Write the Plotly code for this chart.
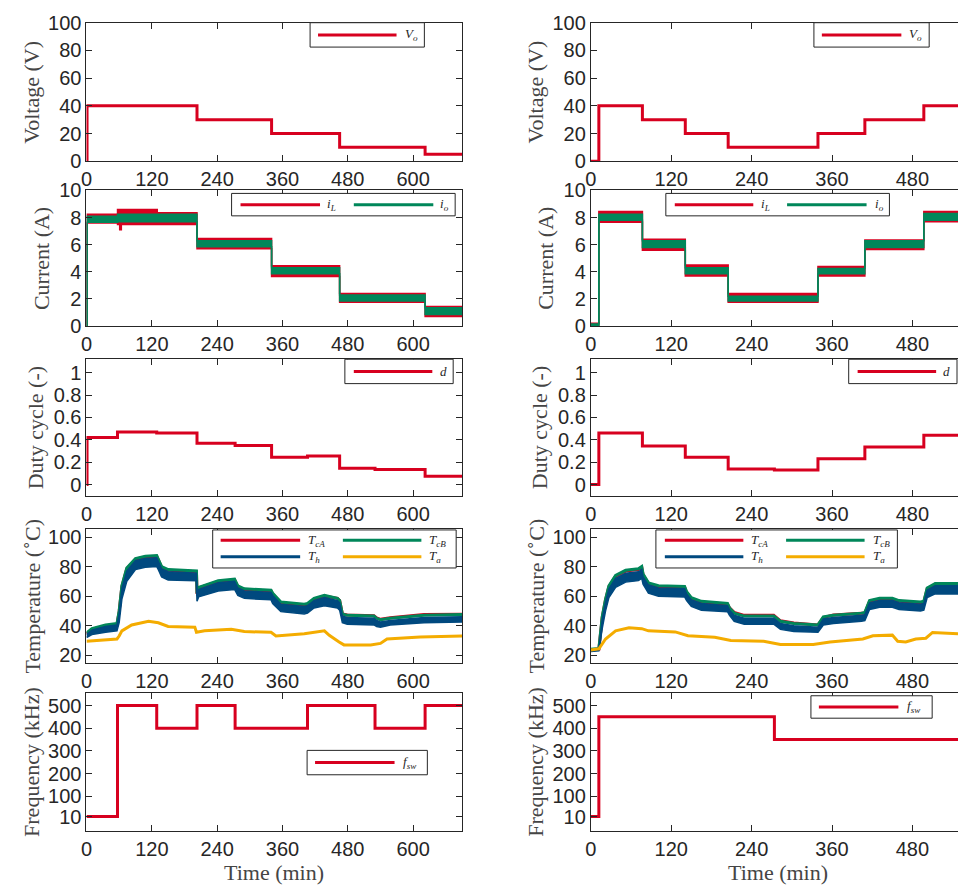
import plotly.graph_objects as go

W, H = 958, 896
RED, GREEN, BLUE, ORANGE = "#D7001F", "#00875A", "#00497F", "#F4AC00"
INK = "#262626"
TITLE_INK = "#454545"
SANS = "Liberation Sans"
SERIF = "Liberation Serif"

# ---------------- run A (left column) ----------------
a_time_v = [0, 1, 203, 340, 465, 622, 690]
a_vo = [0, 40, 30, 20, 10, 5, 5]

a_time_i = [0, 1, 57, 61, 64, 130, 203, 340, 465, 622, 690]
a_iL_hi = [0.1, 8.25, 8.6, 8.6, 8.6, 8.35, 6.45, 4.45, 2.4, 1.45, 1.45]
a_iL_lo = [-0.05, 7.6, 7.5, 7.1, 7.5, 7.5, 5.7, 3.65, 1.75, 0.7, 0.7]
a_io_hi = [0.05, 8.1, 8.25, 8.25, 8.25, 8.25, 6.3, 4.3, 2.3, 1.35, 1.35]
a_io_lo = [0.0, 7.65, 7.7, 7.7, 7.7, 7.7, 5.85, 3.85, 1.85, 0.85, 0.85]

a_time_d = [0, 1, 57, 129, 203, 273, 340, 406, 465, 530, 622, 690]
a_d = [0, 0.42, 0.47, 0.46, 0.37, 0.35, 0.245, 0.255, 0.145, 0.135, 0.075, 0.075]

a_time_T = [0, 10, 35, 56, 60, 65, 74, 90, 108, 129, 132, 138, 150, 202, 203, 206,
            242, 272, 278, 290, 339, 342, 357, 400, 406, 418, 437, 461, 465, 470,
            479, 528, 533, 540, 558, 595, 620, 690]
a_TcA = [34.5, 37.5, 40, 41, 49.5, 66.5, 78.5, 85, 86.5, 87, 84.5, 79.5, 77.5, 76.5,
         61.5, 65.5, 70, 71, 66.5, 64.5, 63.5, 61.5, 55.5, 54, 54.5, 58, 60, 58.5,
         57, 48, 47.3, 46.8, 45.3, 44.3, 45.3, 46.4, 47.5, 47.8]
a_TcB = [35, 38, 40.5, 41.5, 50, 67, 79, 85.5, 87, 87.5, 85, 80, 78, 77, 62, 66,
         70.5, 71.5, 67, 65, 64, 62, 56, 54.5, 55, 58.5, 60.5, 58.5, 57, 48, 47,
         46.5, 45, 44, 45, 46, 47, 47.5]
a_Th_hi = [34, 37, 39.5, 40.5, 48, 65, 77, 84, 85.5, 86, 83.5, 78.5, 76.5, 75.5, 60,
           64.5, 69, 70, 65.5, 63.5, 62.5, 60.5, 54.5, 53, 53.5, 57, 59, 57, 55.5,
           46.5, 45.5, 45, 43.5, 42.5, 43.5, 44.5, 45.5, 46]
a_Th_lo = [32, 34, 35.5, 36.5, 42, 58, 70, 78, 79.5, 80, 78, 73, 71, 70.5, 56.5, 59.5,
           63.5, 64.5, 60.5, 58.5, 57.5, 55, 49.5, 48, 48.5, 52, 53.5, 52, 50.5, 42,
           41, 40.5, 39.5, 39, 40.5, 41.5, 42, 42.5]
a_time_Ta = [0, 56, 60, 65, 83, 114, 132, 150, 199, 202, 217, 266, 290, 339, 348, 400,
             437, 446, 464, 473, 522, 540, 552, 613, 690]
a_Ta = [29.5, 31, 33, 36.5, 40.5, 43, 42, 39.5, 39, 35.5, 36.5, 37.5, 36, 35.5, 33,
        34.5, 36.5, 33.5, 29, 27, 27, 28, 31, 32.3, 33]

a_time_f = [0, 57, 129, 203, 273, 406, 530, 622, 690]
a_fsw = [10, 500, 400, 500, 400, 500, 400, 500, 500]

# ---------------- run B (right column) ----------------
b_time_v = [0, 12, 77, 141, 205, 339, 409, 497, 548]
b_vo = [0, 40, 30, 20, 10, 20, 30, 40, 40]
b_iL_hi = [0.2, 8.45, 6.4, 4.5, 2.4, 4.4, 6.35, 8.45, 8.45]
b_iL_lo = [-0.1, 7.65, 5.6, 3.7, 1.75, 3.7, 5.65, 7.7, 7.7]
b_io_hi = [0.15, 8.25, 6.3, 4.3, 2.2, 4.25, 6.3, 8.3, 8.3]
b_io_lo = [-0.05, 7.8, 5.8, 3.85, 1.85, 3.85, 5.8, 7.8, 7.8]

b_time_d = [0, 12, 77, 141, 205, 274, 339, 409, 497, 548]
b_d = [0, 0.46, 0.345, 0.245, 0.14, 0.13, 0.23, 0.335, 0.44, 0.44]

b_time_T = [0, 12, 17, 22, 27, 37, 52, 71, 76, 78, 86, 101, 140, 143, 150, 165, 204,
            207, 214, 229, 273, 283, 303, 335, 339, 347, 362, 404, 409, 416, 431, 450,
            460, 492, 497, 502, 514, 548]
b_TcA = [23.5, 24, 45.5, 57.5, 66.5, 73.5, 77, 78, 79.5, 74.5, 68.5, 66.5, 66, 62.5,
         58.5, 56, 54.5, 52, 49, 47, 47, 43.3, 41.8, 40.5, 40.5, 45.5, 47.3, 48.5,
         48.5, 56.5, 58, 58, 56.5, 55.5, 56, 65, 68, 68]
b_TcB = [24, 24.5, 46, 58, 67, 74, 77.5, 78.5, 80, 75, 69, 67, 66.5, 63, 59, 56.5, 55,
         52, 48.5, 46.5, 46.5, 43, 41.5, 40.5, 40.5, 46, 47, 48.5, 49, 57, 58.5, 58.5,
         57, 56, 56.5, 65.5, 68.5, 68.5]
b_Th_hi = [23.5, 24, 44, 56, 65, 72, 75.5, 76.5, 78, 73, 67.5, 65.5, 65, 61.5, 57.5,
           55, 53.5, 50.5, 47, 45, 45, 41.5, 40, 39, 39, 44.5, 45.5, 47, 47.5, 55.5,
           57, 57, 55.5, 54.5, 55, 64, 67, 67]
b_Th_lo = [22.5, 23, 38, 50, 59, 66, 69.5, 70.5, 72, 68, 62, 60, 59.5, 57, 53, 50.5,
           49.5, 47, 43, 41, 41, 37.5, 36, 35.5, 35.5, 40.5, 41.5, 43, 43.5, 51, 52.5,
           52.5, 51, 50, 50.5, 59, 61.5, 61.5]
b_time_Ta = [0, 12, 22, 37, 57, 76, 86, 126, 145, 185, 209, 258, 283, 332, 357, 382,
             406, 421, 450, 458, 470, 485, 500, 510, 548]
b_Ta = [23.6, 24.3, 31, 36.5, 38.6, 38, 36.5, 35.8, 33.2, 32.2, 30, 29.4, 27.3, 27.3,
        29, 30, 31, 33.2, 33.6, 29.4, 29, 31, 31.5, 35.4, 34.5]

b_time_f = [0, 12, 274, 548]
b_fsw = [10, 450, 350, 350]

# ---------------- axes layout ----------------
rows = [
    dict(rng=[0, 100], vals=[0, 20, 40, 60, 80, 100], title="Voltage (V)", top=12, bot=154),
    dict(rng=[0, 10], vals=[0, 2, 4, 6, 8, 10], title="Current (A)", top=184, bot=323),
    dict(rng=[-0.1, 1.12], vals=[0, 0.2, 0.4, 0.6, 0.8, 1],
         text=["0", "0.2", "0.4", "0.6", "0.8", "1"], title="Duty cycle (-)", top=357, bot=497),
    dict(rng=[15, 105.5], vals=[20, 40, 60, 80, 100], title="Temperature (<sup>∘</sup>C)",
         top=531, bot=668),
    dict(rng=[-55, 556], vals=[10, 100, 200, 300, 400, 500], title="Frequency (kHz)",
         top=699, bot=841),
]
cols = [
    dict(x0=81, x1=459, xr=[0, 690], xt=[0, 120, 240, 360, 480, 600], ymirror="ticks",
         title_x=[26, 36, 30, 25, 25], time_x=270),
    dict(x0=588.5, x1=958, xr=[0, 548], xt=[0, 120, 240, 360, 480], ymirror=False,
         title_x=[533, 543, 537, 532, 532], time_x=777),
]

fig = go.Figure()
axes = {}
annotations = []
shapes = []


def px_x(p):
    return p / W


def px_y(p):
    return 1 - p / H


def axis_id(r, c):
    return r * 2 + c + 1


for c, col in enumerate(cols):
    for r, row in enumerate(rows):
        n = axis_id(r, c)
        common = dict(showline=True, linecolor=INK, linewidth=1, ticks="inside", ticklen=6,
                      tickwidth=1, tickcolor=INK, showgrid=False, zeroline=False,
                      tickfont=dict(family=SANS, size=20, color=INK))
        axes[f"xaxis{n}"] = dict(common, domain=[px_x(col["x0"]), px_x(col["x1"])],
                                 range=col["xr"], tickvals=col["xt"], mirror="ticks",
                                 anchor=f"y{n}")
        ya = dict(common, domain=[px_y(row["bot"]), px_y(row["top"])], range=row["rng"],
                  tickvals=row["vals"], mirror=col["ymirror"], anchor=f"x{n}")
        if "text" in row:
            ya["ticktext"] = row["text"]
        axes[f"yaxis{n}"] = ya
        annotations.append(dict(text=row["title"], x=px_x(col["title_x"][r]),
                                y=px_y((row["top"] + row["bot"]) / 2), xref="paper",
                                yref="paper", textangle=-90, showarrow=False,
                                xanchor="center", yanchor="middle",
                                font=dict(family=SERIF, size=22, color=TITLE_INK)))
    annotations.append(dict(text="Time (min)", x=px_x(col["time_x"]), y=px_y(883),
                            xref="paper", yref="paper", showarrow=False, xanchor="center",
                            yanchor="middle", font=dict(family=SERIF, size=22, color=TITLE_INK)))


def step(n, x, y, color, width=3):
    fig.add_trace(go.Scatter(x=x, y=y, mode="lines", line=dict(color=color, width=width,
                  shape="hv"), xaxis=f"x{n}", yaxis=f"y{n}", showlegend=False))


def band(n, x, hi, lo, color, shape="hv"):
    fig.add_trace(go.Scatter(x=x, y=hi, mode="lines", line=dict(color=color, width=1.5,
                  shape=shape), xaxis=f"x{n}", yaxis=f"y{n}", showlegend=False))
    fig.add_trace(go.Scatter(x=x, y=lo, mode="lines", line=dict(color=color, width=1.5,
                  shape=shape), fill="tonexty", fillcolor=color, xaxis=f"x{n}",
                  yaxis=f"y{n}", showlegend=False))


def curve(n, x, y, color, width=3):
    fig.add_trace(go.Scatter(x=x, y=y, mode="lines", line=dict(color=color, width=width),
                  xaxis=f"x{n}", yaxis=f"y{n}", showlegend=False))


runs = [
    dict(tv=a_time_v, vo=a_vo, ti=a_time_i, iLh=a_iL_hi, iLl=a_iL_lo, ioh=a_io_hi,
         iol=a_io_lo, td=a_time_d, d=a_d, tT=a_time_T, TcA=a_TcA, TcB=a_TcB, Thh=a_Th_hi,
         Thl=a_Th_lo, tTa=a_time_Ta, Ta=a_Ta, tf=a_time_f, f=a_fsw),
    dict(tv=b_time_v, vo=b_vo, ti=b_time_v, iLh=b_iL_hi, iLl=b_iL_lo, ioh=b_io_hi,
         iol=b_io_lo, td=b_time_d, d=b_d, tT=b_time_T, TcA=b_TcA, TcB=b_TcB, Thh=b_Th_hi,
         Thl=b_Th_lo, tTa=b_time_Ta, Ta=b_Ta, tf=b_time_f, f=b_fsw),
]

for c, run in enumerate(runs):
    step(axis_id(0, c), run["tv"], run["vo"], RED)
    band(axis_id(1, c), run["ti"], run["iLh"], run["iLl"], RED)
    band(axis_id(1, c), run["ti"], run["ioh"], run["iol"], GREEN)
    step(axis_id(2, c), run["td"], run["d"], RED)
    n = axis_id(3, c)
    curve(n, run["tT"], run["TcA"], RED)
    curve(n, run["tT"], run["TcB"], GREEN)
    band(n, run["tT"], run["Thh"], run["Thl"], BLUE, shape="linear")
    curve(n, run["tTa"], run["Ta"], ORANGE, width=3)
    step(axis_id(4, c), run["tf"], run["f"], RED)


# ---------------- legends (box, line samples, labels) ----------------
def legend(box, entries):
    x0, y0, x1, y1 = box
    shapes.append(dict(type="rect", xref="paper", yref="paper", x0=px_x(x0), x1=px_x(x1),
                       y0=px_y(y1), y1=px_y(y0), line=dict(color=INK, width=1),
                       fillcolor="white", layer="above"))
    for lx0, lx1, ly, color, label, tx in entries:
        shapes.append(dict(type="line", xref="paper", yref="paper", x0=px_x(lx0),
                           x1=px_x(lx1), y0=px_y(ly), y1=px_y(ly),
                           line=dict(color=color, width=3), layer="above"))
        annotations.append(dict(text=label, x=px_x(tx), y=px_y(ly), xref="paper",
                                yref="paper", showarrow=False, xanchor="left",
                                yanchor="middle", font=dict(family=SERIF, size=13,
                                                            color=INK)))


VO = "<i>V<sub>o</sub></i>"
IL = "<i>i<sub>L</sub></i>"
IO = "<i>i<sub>o</sub></i>"
DD = "<i>d</i>"
TCA = "<i>T<sub>cA</sub></i>"
TCB = "<i>T<sub>cB</sub></i>"
TH = "<i>T<sub>h</sub></i>"
TA = "<i>T<sub>a</sub></i>"
FSW = "<i>f<sub>sw</sub></i>"

legend((306, 12, 421, 37), [(314, 393, 24.5, RED, VO, 399)])
legend((813, 12, 929, 37), [(821, 901, 24.5, RED, VO, 907)])
legend((227, 187, 452, 210), [(236, 316, 198.5, RED, IL, 321), (350, 430, 198.5, GREEN, IO, 435)])
legend((664, 187, 889, 210), [(673, 752, 198.5, RED, IL, 758), (786, 866, 198.5, GREEN, IO, 872)])
legend((341, 357, 450, 382), [(350, 429, 369.5, RED, DD, 435)])
legend((848, 357, 957, 382), [(857, 936, 369.5, RED, DD, 941)])
legend((208, 532, 453, 571), [(216, 296, 542.5, RED, TCA, 302), (339, 418, 542.5, GREEN, TCB, 424),
                              (216, 296, 559.5, BLUE, TH, 302), (339, 418, 559.5, ORANGE, TA, 424)])
legend((654, 532, 897, 571), [(663, 742, 542.5, RED, TCA, 748), (785, 864, 542.5, GREEN, TCB, 870),
                              (663, 742, 559.5, BLUE, TH, 748), (785, 864, 559.5, ORANGE, TA, 870)])
legend((303, 758, 424, 783), [(311, 391, 770.5, RED, FSW, 397)])
legend((810, 702, 932, 725), [(818, 898, 713.5, RED, FSW, 905)])

fig.update_layout(width=W, height=H, margin=dict(l=0, r=0, t=0, b=0),
                  paper_bgcolor="white", plot_bgcolor="white", showlegend=False,
                  annotations=annotations, shapes=shapes, **axes)
fig.write_html("out.html")
